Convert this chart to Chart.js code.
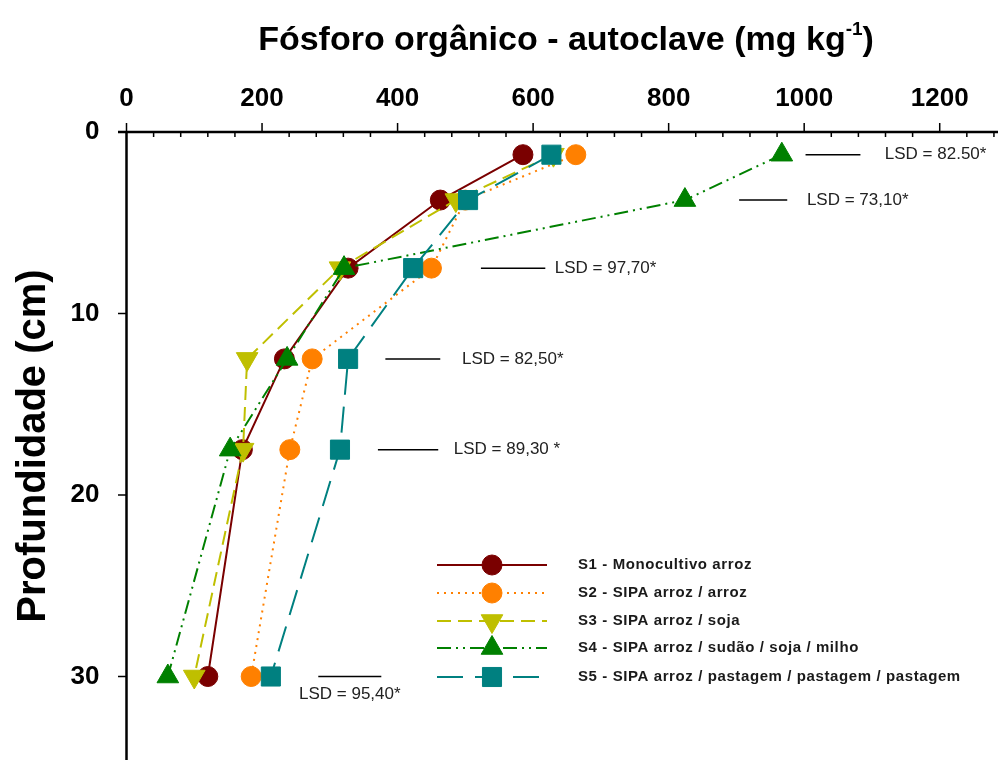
<!DOCTYPE html>
<html>
<head>
<meta charset="utf-8">
<script src="https://cdn.jsdelivr.net/npm/chart.js@4/dist/chart.umd.min.js"></script>
<style>
  html, body { margin: 0; padding: 0; background: #fff; }
  #wrap { width: 998px; height: 760px; position: relative; }
</style>
</head>
<body>
<div id="wrap"><canvas id="chart"></canvas></div>
<script>
// profundidade (cm) de cada camada
const depths = [1.25, 3.75, 7.5, 12.5, 17.5, 30];

const seriesNames = [
  'S1 - Monocultivo arroz',
  'S2 - SIPA arroz / arroz',
  'S3 - SIPA arroz / soja',
  'S4 - SIPA arroz / sudão / soja / milho',
  'S5 - SIPA arroz / pastagem / pastagem / pastagem'
];

// fósforo orgânico (mg/kg) por camada
const s1 = [585, 463, 327, 233, 171, 120];
const s2 = [663, 500, 450, 274, 241, 184];
const s3 = [630, 486, 315, 178, 172, 100];
const s4 = [967, 824, 321, 237, 153, 61];
const s5 = [627, 504, 423, 327, 315, 213];

const xTicks = [0, 200, 400, 600, 800, 1000, 1200];
const yTicks = [0, 10, 20, 30];

const lsdLabels = ['LSD = 82.50*', 'LSD = 73,10*', 'LSD = 97,70*', 'LSD = 82,50*', 'LSD = 89,30 *', 'LSD = 95,40*'];

const FONT = "'Liberation Sans', Arial, sans-serif";

const styles = [
  { color: '#7a0000', dash: [], style: 'circle', r: 10, rot: 0, order: 5 },
  { color: '#ff8000', dash: [2, 5], style: 'circle', r: 10, rot: 0, order: 4 },
  { color: '#bfbf00', dash: [14, 7], style: 'triangle', r: 12.5, rot: 180, order: 3 },
  { color: '#008000', dash: [14, 5, 2, 5, 2, 5], style: 'triangle', r: 12.5, rot: 0, order: 2 },
  { color: '#008080', dash: [26, 12], style: 'rect', r: 13.5, rot: 0, order: 1 }
];

const seriesValues = [s1, s2, s3, s4, s5];

const datasets = seriesValues.map((vals, i) => ({
  label: seriesNames[i],
  data: vals.map((v, j) => ({ x: v, y: depths[j] })),
  showLine: true,
  borderColor: styles[i].color,
  backgroundColor: styles[i].color,
  borderWidth: 2,
  borderDash: styles[i].dash,
  pointStyle: styles[i].style,
  pointRadius: styles[i].r,
  pointRotation: styles[i].rot,
  pointBorderWidth: 1,
  order: styles[i].order
}));

// posições das linhas LSD e do texto (em unidades do eixo x)
const lsdPlace = [
  { x0: 1002, x1: 1083, tx: 1119 },
  { x0: 904, x1: 975, tx: 1004 },
  { x0: 523, x1: 618, tx: 632 },
  { x0: 382, x1: 463, tx: 495 },
  { x0: 371, x1: 460, tx: 483 },
  { x0: 283, x1: 376, tx: null }
];

const extrasPlugin = {
  id: 'extras',
  afterDatasetsDraw(chart) {
    const ctx = chart.ctx;
    const xs = chart.scales.x, ys = chart.scales.y;
    const area = chart.chartArea;
    ctx.save();

    // eixos
    ctx.strokeStyle = '#000';
    ctx.lineWidth = 2.5;
    ctx.beginPath();
    ctx.moveTo(118, area.top);
    ctx.lineTo(chart.width, area.top);
    ctx.moveTo(area.left, area.top);
    ctx.lineTo(area.left, chart.height);
    ctx.stroke();

    ctx.lineWidth = 1.5;
    ctx.beginPath();
    for (let v = 0; v <= 1280; v += 40) {
      const px = xs.getPixelForValue(v);
      if (v % 200 === 0) {
        ctx.moveTo(px, area.top - 9);
        ctx.lineTo(px, area.top);
      } else {
        ctx.moveTo(px, area.top);
        ctx.lineTo(px, area.top + 5);
      }
    }
    yTicks.forEach(v => {
      const py = ys.getPixelForValue(v);
      ctx.moveTo(118, py);
      ctx.lineTo(area.left, py);
    });
    ctx.stroke();

    // LSD
    ctx.font = '17px ' + FONT;
    ctx.fillStyle = '#222';
    ctx.textBaseline = 'middle';
    ctx.lineWidth = 1.5;
    lsdLabels.forEach((txt, i) => {
      const p = lsdPlace[i];
      const py = ys.getPixelForValue(depths[i]);
      const a = xs.getPixelForValue(p.x0), b = xs.getPixelForValue(p.x1);
      ctx.beginPath();
      ctx.moveTo(a, py);
      ctx.lineTo(b, py);
      ctx.stroke();
      if (p.tx !== null) {
        ctx.textAlign = 'left';
        ctx.fillText(txt, xs.getPixelForValue(p.tx), py);
      } else {
        ctx.textAlign = 'center';
        ctx.fillText(txt, (a + b) / 2, py + 18);
      }
    });

    // legenda
    const rows = [565, 593, 621, 648, 677];
    chart.data.datasets.forEach((ds, i) => {
      const y = rows[i];
      ctx.strokeStyle = ds.borderColor;
      ctx.fillStyle = ds.backgroundColor;
      ctx.lineWidth = 2;
      ctx.setLineDash(ds.borderDash);
      ctx.beginPath();
      ctx.moveTo(437, y);
      ctx.lineTo(547, y);
      ctx.stroke();
      ctx.setLineDash([]);
      ctx.lineWidth = 1;
      Chart.helpers.drawPoint(ctx, {
        pointStyle: ds.pointStyle, radius: ds.pointRadius,
        rotation: ds.pointRotation, borderWidth: 1
      }, 492, y);
      ctx.fillStyle = '#1a1a1a';
      ctx.font = 'bold 15px ' + FONT;
      ctx.letterSpacing = '0.6px';
      ctx.textAlign = 'left';
      ctx.textBaseline = 'middle';
      ctx.fillText(ds.label, 578, y);
      ctx.letterSpacing = '0px';
    });

    // título do eixo x, com sobrescrito
    const main = 'Fósforo orgânico - autoclave (mg kg';
    ctx.fillStyle = '#000';
    ctx.textBaseline = 'alphabetic';
    ctx.textAlign = 'left';
    ctx.font = 'bold 34px ' + FONT;
    const w1 = ctx.measureText(main).width;
    const w3 = ctx.measureText(')').width;
    ctx.font = 'bold 19px ' + FONT;
    const w2 = ctx.measureText('-1').width;
    let x0 = 566 - (w1 + w2 + w3) / 2;
    const base = 50;
    ctx.font = 'bold 34px ' + FONT;
    ctx.fillText(main, x0, base);
    ctx.font = 'bold 19px ' + FONT;
    ctx.fillText('-1', x0 + w1, base - 15);
    ctx.font = 'bold 34px ' + FONT;
    ctx.fillText(')', x0 + w1 + w2, base);

    ctx.restore();
  }
};

new Chart(document.getElementById('chart'), {
  type: 'scatter',
  data: { datasets },
  options: {
    responsive: true,
    maintainAspectRatio: false,
    animation: false,
    layout: { padding: 0, autoPadding: false },
    plugins: {
      legend: { display: false },
      tooltip: { enabled: false }
    },
    scales: {
      x: {
        type: 'linear',
        position: 'top',
        min: 0,
        max: 1286,
        afterBuildTicks: s => { s.ticks = xTicks.map(v => ({ value: v })); },
        afterFit: s => {
          s.height = 132;
          s.paddingLeft = 0; s.paddingRight = 0;
        },
        grid: { display: false },
        border: { display: false },
        ticks: {
          autoSkip: false,
          maxRotation: 0,
          padding: 10,
          color: '#000',
          callback: v => String(v),
          font: { family: FONT, size: 26, weight: 'bold' }
        }
      },
      y: {
        type: 'linear',
        reverse: true,
        min: 0,
        max: 34.6,
        afterBuildTicks: s => { s.ticks = yTicks.map(v => ({ value: v })); },
        afterFit: s => {
          s.width = 126.5;
          s.paddingTop = 0; s.paddingBottom = 0;
        },
        grid: { display: false },
        border: { display: false },
        ticks: {
          padding: 19,
          color: '#000',
          callback: v => String(v),
          font: { family: FONT, size: 26, weight: 'bold' }
        },
        title: {
          display: true,
          text: 'Profundidade (cm)',
          color: '#000',
          padding: { top: 10, bottom: 0 },
          font: { family: FONT, size: 40, weight: 'bold' }
        }
      }
    }
  },
  plugins: [extrasPlugin]
});
</script>
</body>
</html>
